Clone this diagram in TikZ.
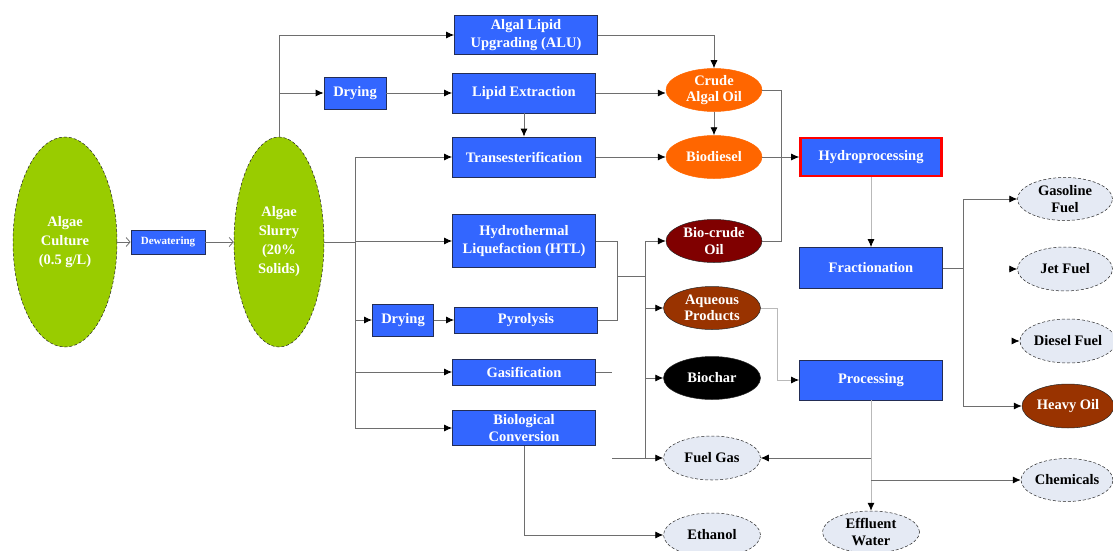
\documentclass[tikz,border=0pt]{standalone}
\usepackage{fontspec}
\setmainfont{Liberation Serif}
\usetikzlibrary{arrows.meta,positioning,calc,shapes.geometric}
\definecolor{ProcBlue}{RGB}{51,102,255}
\definecolor{AlgaeGreen}{RGB}{153,204,0}
\definecolor{OilOrange}{RGB}{255,102,0}
\definecolor{CrudeRed}{RGB}{128,0,0}
\definecolor{AqBrown}{RGB}{153,51,0}
\definecolor{ProdGrey}{RGB}{229,234,244}
\definecolor{LineGrey}{RGB}{110,110,110}
\definecolor{LightLine}{RGB}{185,185,185}
\definecolor{EdgeNavy}{RGB}{35,45,85}
\tikzset{
  >=Latex,
  proc/.style={rectangle,draw=EdgeNavy,line width=.8pt,fill=ProcBlue,text=white,font=\bfseries\fontsize{14.5}{17.5}\selectfont,align=center,inner sep=1pt,minimum width=143pt,minimum height=40pt},
  small/.style={proc,minimum width=62pt,minimum height=32pt},
  hydro/.style={proc,draw=red,line width=2.6pt,minimum width=141pt,minimum height=38pt},
  blob/.style={ellipse,draw=black!85,densely dashed,line width=.5pt,align=center,font=\bfseries\fontsize{14.5}{16.5}\selectfont,inner sep=0pt,minimum width=96pt,minimum height=43pt},
  feed/.style={blob,fill=AlgaeGreen,text=white,minimum height=210pt,font=\bfseries\fontsize{14.5}{19}\selectfont},
  oil/.style={blob,solid,draw=OilOrange,fill=OilOrange,text=white},
  crude/.style={blob,solid,fill=CrudeRed,text=white},
  brown/.style={blob,solid,fill=AqBrown,text=white},
  char/.style={blob,solid,fill=black,text=white},
  product/.style={blob,fill=ProdGrey,text=black},
  link/.style={draw=LineGrey,line width=.8pt},
  faint/.style={draw=LightLine,line width=.8pt},
  tip/.style={link,-{Latex[length=8pt,width=7pt,color=black]}},
  barb/.style={link,-{Straight Barb[length=4pt,width=9pt]}}
}
\begin{document}
\begin{tikzpicture}[x=1pt,y=-1pt]
  \useasboundingbox (0,0) rectangle (1113,551);
  % feedstock
  \node[feed,minimum width=104pt] (culture) at (65,242) {Algae\\Culture\\(0.5 g/L)};
  \node[proc,minimum width=74pt,minimum height=24pt,font=\bfseries\fontsize{11}{12}\selectfont] (dewater) at (168,242) {Dewatering};
  \node[feed,minimum width=90pt] (slurry) at (279,242) {Algae\\Slurry\\(20\%\\Solids)};
  % conversion routes
  \node[proc,minimum height=39pt] (alu) at (526,35) {Algal Lipid\\Upgrading (ALU)};
  \node[small] (dry1) at (355,93) {Drying};
  \node[proc] (lipid) at (524,93) {Lipid Extraction};
  \node[proc] (trans) at (524,157) {Transesterification};
  \node[proc,minimum height=53pt] (htl) at (524,241) {Hydrothermal\\Liquefaction (HTL)};
  \node[small,minimum width=61pt] (dry2) at (403,320) {Drying};
  \node[proc,minimum height=26pt] (pyro) at (526,320) {Pyrolysis};
  \node[proc,minimum height=26pt] (gasif) at (524,372) {Gasification};
  \node[proc,minimum height=35pt] (bioconv) at (524,428) {Biological\\Conversion};
  % intermediates
  \node[oil] (crudeoil) at (714,90) {Crude\\Algal Oil};
  \node[oil] (biodiesel) at (714,157) {Biodiesel};
  \node[crude] (biocrude) at (714,241) {Bio-crude\\Oil};
  \node[brown,minimum width=97pt] (aqueous) at (712,308) {Aqueous\\Products};
  \node[char,minimum width=97pt] (biochar) at (712,378) {Biochar};
  \node[product,minimum width=97pt,minimum height=44pt] (fuelgas) at (712,458) {Fuel Gas};
  \node[product,minimum width=97pt,minimum height=44pt] (ethanol) at (712,535) {Ethanol};
  % upgrading
  \node[hydro] (hydro) at (871,157) {Hydroprocessing};
  \node[proc,minimum height=41pt] (frac) at (871,268) {Fractionation};
  \node[proc] (processing) at (871,380) {Processing};
  \node[product,minimum width=97pt,minimum height=42pt] (effluent) at (871,532) {Effluent\\Water};
  % final products
  \node[product,minimum width=95pt] (gasoline) at (1065,199) {Gasoline\\Fuel};
  \node[product,minimum width=95pt,minimum height=44pt] (jet) at (1065,269) {Jet Fuel};
  \node[product,minimum width=91pt,minimum height=44pt] (diesel) at (1068,341) {Diesel Fuel};
  \node[brown,minimum width=92pt,minimum height=44pt] (heavy) at (1068,406) {Heavy Oil};
  \node[product,minimum width=92pt] (chemicals) at (1067,480) {Chemicals};
  % bus lines and free ends
  \coordinate (bus) at (355,0);
  \coordinate (merge) at (617,276);
  \coordinate (outbus) at (645,0);
  \coordinate (gasend) at (612,372);
  \coordinate (gasfeed) at (612,458);
  \coordinate (oilbus) at (781,0);
  \coordinate (aqturn) at (777,0);
  \coordinate (fracbus) at (963,0);
  \coordinate (jetin) at (1009,269);
  \coordinate (dieselin) at (1013,341);
  % connectors
  \draw[barb] (culture) -- (dewater);
  \draw[barb] (dewater) -- (slurry);
  \draw[tip] (slurry.north) |- (alu);
  \draw[tip] (slurry.north |- dry1) -- (dry1);
  \draw[tip] (dry1) -- (lipid);
  \draw[tip] (lipid) -- (trans);
  \draw[link] (slurry.east) -- (bus |- slurry.east);
  \draw[link] (bus |- trans) -- (bus |- bioconv);
  \draw[tip] (bus |- trans) -- (trans);
  \draw[tip] (bus |- htl) -- (htl);
  \draw[tip] (bus |- dry2) -- (dry2);
  \draw[tip] (dry2) -- (pyro);
  \draw[tip] (bus |- gasif) -- (gasif);
  \draw[tip] (bus |- bioconv) -- (bioconv);
  \draw[link] (htl.east) -| (merge);
  \draw[link] (pyro.east) -| (merge);
  \draw[link] (merge) -- (outbus |- merge);
  \draw[link] (outbus |- biocrude) -- (outbus |- fuelgas);
  \draw[tip] (outbus |- biocrude) -- (biocrude);
  \draw[tip] (outbus |- aqueous) -- (aqueous);
  \draw[tip] (outbus |- biochar) -- (biochar);
  \draw[link] (gasif.east) -- (gasend);
  \draw[tip] (gasfeed) -- (fuelgas);
  \draw[tip] (bioconv.south) |- (ethanol);
  \draw[tip] (alu.east) -| (crudeoil.north);
  \draw[tip] (lipid.east) -- (lipid.east -| crudeoil.west);
  \draw[tip] (crudeoil) -- (biodiesel);
  \draw[tip] (trans) -- (biodiesel);
  \draw[tip] (biodiesel) -- (hydro);
  \draw[link] (crudeoil.east) -| (oilbus |- biocrude) -- (biocrude.east);
  \draw[tip,faint] (hydro) -- (frac);
  \draw[link] (frac.east) -- (fracbus |- frac);
  \draw[link] (fracbus |- gasoline) -- (fracbus |- heavy);
  \draw[tip] (fracbus |- gasoline) -- (gasoline);
  \draw[tip] (fracbus |- heavy) -- (heavy);
  \draw[tip] (jetin) -- (jet);
  \draw[tip] (dieselin) -- (diesel);
  \draw[tip,faint] (aqueous.east) -| (aqturn |- processing) -- (processing);
  \draw[tip,faint] (processing) -- (effluent);
  \draw[tip] (processing.south |- fuelgas) -- (fuelgas);
  \draw[tip] (processing.south |- chemicals) -- (chemicals);
\end{tikzpicture}
\end{document}
